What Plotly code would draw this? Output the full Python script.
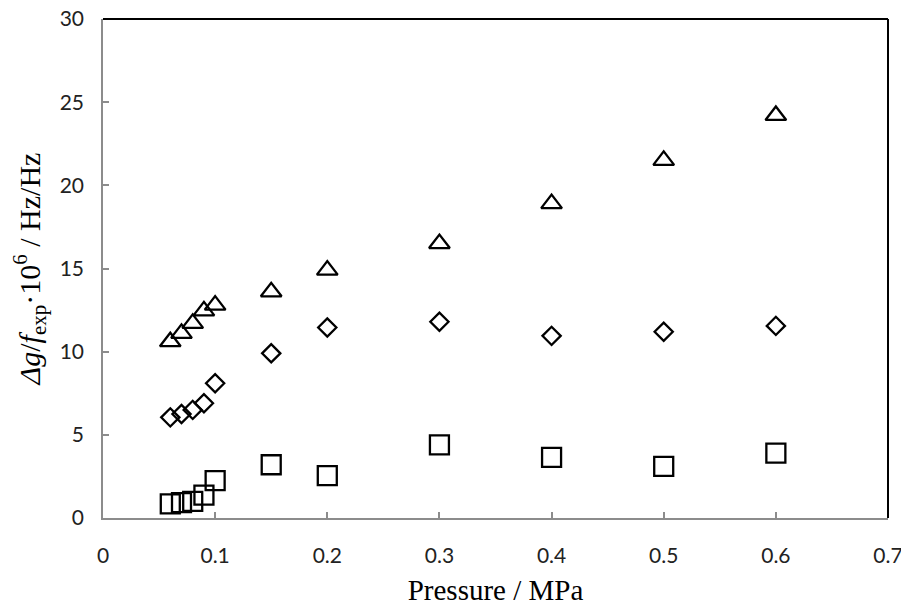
import plotly.graph_objects as go

pressure = [0.06, 0.07, 0.08, 0.09, 0.10, 0.15, 0.20, 0.30, 0.40, 0.50, 0.60]
triangles = [10.6, 11.1, 11.7, 12.45, 12.8, 13.6, 14.9, 16.5, 18.9, 21.5, 24.2]
diamonds = [6.05, 6.25, 6.5, 6.9, 8.1, 9.9, 11.45, 11.8, 10.95, 11.2, 11.55]
squares = [0.85, 0.92, 1.0, 1.38, 2.25, 3.2, 2.55, 4.4, 3.65, 3.1, 3.9]

x_ticks = [0, 0.1, 0.2, 0.3, 0.4, 0.5, 0.6, 0.7]
x_labels = ["0", "0.1", "0.2", "0.3", "0.4", "0.5", "0.6", "0.7"]
y_ticks = [0, 5, 10, 15, 20, 25, 30]

fig = go.Figure()
for vals, sym, size in [(triangles, "triangle-up-open", 18),
                        (diamonds, "diamond-open", 14),
                        (squares, "square-open", 19)]:
    fig.add_trace(go.Scatter(
        x=pressure, y=vals, mode="markers",
        marker=dict(symbol=sym, size=size, color="black",
                    line=dict(color="black", width=2.3)),
        showlegend=False))

axis_common = dict(showgrid=False, zeroline=False, showline=True,
                   linecolor="#8c8c8c", linewidth=1.5, ticks="inside",
                   tickcolor="#8c8c8c", ticklen=6, tickwidth=1.5,
                   automargin=False, ticklabeloverflow="allow",
                   tickfont=dict(family="Lato, sans-serif", size=21, color="#222222"))

fig.update_xaxes(range=[0, 0.7], tickvals=x_ticks, ticktext=x_labels,
                 ticklabelstandoff=18,
                 title=dict(text="Pressure / MPa",
                            font=dict(family="Liberation Serif", size=29, color="black"),
                            standoff=23),
                 **axis_common)
fig.update_yaxes(range=[0, 30], tickvals=y_ticks,
                 ticklabelstandoff=13,
                 title=dict(text="<i>Δg</i>/<i>f</i><sub>exp</sub>·10<sup>6</sup> / Hz/Hz",
                            font=dict(family="Liberation Serif", size=30, color="black"),
                            standoff=15),
                 **axis_common)

fig.add_shape(type="line", xref="paper", yref="paper", x0=0.0, x1=1, y0=1, y1=1,
              line=dict(color="black", width=2))
fig.add_shape(type="line", xref="paper", yref="paper", x0=1, x1=1, y0=0, y1=1,
              line=dict(color="black", width=2))

fig.update_layout(width=901, height=598, plot_bgcolor="white", paper_bgcolor="white",
                  margin=dict(l=95, r=21, t=11, b=88))

fig.write_html("out.html")
